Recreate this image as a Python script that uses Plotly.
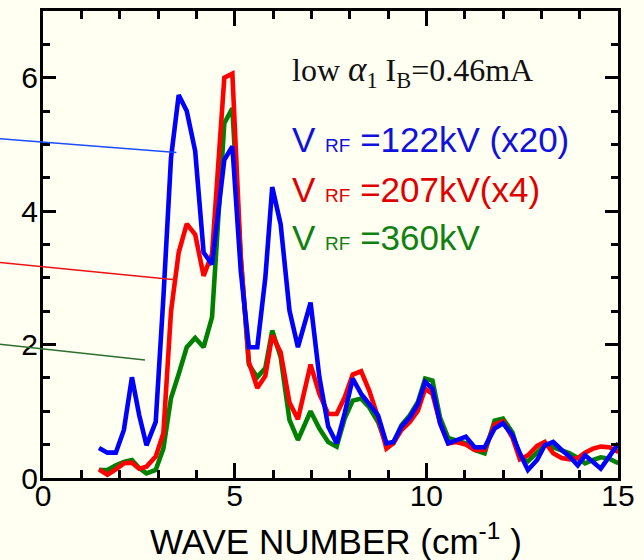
import plotly.graph_objects as go

# Wave number samples (cm^-1) shared by the three spectra
wave_number = [1.46, 1.68, 1.90, 2.11, 2.32, 2.51, 2.70, 2.94, 3.14, 3.34,
               3.54, 3.75, 3.97, 4.19, 4.41, 4.73, 4.94, 5.16, 5.37, 5.59,
               5.80, 5.98, 6.20, 6.43, 6.65, 6.98, 7.21, 7.44, 7.66, 7.87,
               8.08, 8.30, 8.51, 8.74, 8.96, 9.14, 9.35, 9.57, 9.78, 9.97,
               10.16, 10.36, 10.57, 10.78, 11.03, 11.26, 11.52, 11.78, 12.00, 12.25,
               12.44, 12.65, 12.89, 13.09, 13.31, 13.53, 13.74, 13.95, 14.14, 14.35,
               14.55, 14.77, 15.01]

# V_RF = 122 kV (scaled x20)
v122 = [0.45, 0.38, 0.38, 0.72, 1.51, 0.94, 0.49, 0.84, 2.70, 4.80,
        5.74, 5.50, 4.90, 3.38, 3.20, 4.77, 4.97, 3.10, 1.96, 1.96,
        3.00, 4.36, 3.80, 2.51, 1.96, 2.63, 1.51, 0.77, 0.52, 0.97,
        1.49, 1.26, 1.11, 0.94, 0.52, 0.54, 0.77, 0.91, 1.11, 1.44,
        1.34, 0.82, 0.52, 0.57, 0.62, 0.46, 0.46, 0.74, 0.82, 0.64,
        0.37, 0.12, 0.27, 0.49, 0.54, 0.42, 0.32, 0.19, 0.34, 0.24,
        0.14, 0.32, 0.52]

# V_RF = 207 kV (scaled x4)
v207 = [0.13, 0.05, 0.13, 0.22, 0.23, 0.14, 0.17, 0.32, 0.67, 2.50,
        3.38, 3.81, 3.65, 3.03, 3.36, 6.00, 6.06, 3.30, 1.74, 1.35,
        1.53, 2.14, 1.88, 1.13, 0.88, 1.70, 1.26, 0.96, 0.96, 1.21,
        1.55, 1.60, 1.31, 0.91, 0.44, 0.52, 0.72, 0.84, 1.01, 1.34,
        1.26, 0.82, 0.52, 0.54, 0.50, 0.42, 0.42, 0.80, 0.85, 0.60,
        0.28, 0.34, 0.48, 0.54, 0.37, 0.30, 0.28, 0.30, 0.38, 0.44,
        0.47, 0.46, 0.39]

# V_RF = 360 kV
v360 = [0.12, 0.12, 0.19, 0.24, 0.27, 0.15, 0.07, 0.12, 0.44, 1.20,
        1.56, 1.96, 2.10, 1.96, 2.41, 5.32, 5.54, 3.30, 1.70, 1.51,
        1.65, 2.21, 1.81, 0.87, 0.57, 1.00, 0.74, 0.54, 0.47, 0.89,
        1.16, 1.19, 1.06, 0.84, 0.49, 0.52, 0.79, 0.94, 1.14, 1.49,
        1.46, 0.90, 0.60, 0.56, 0.52, 0.42, 0.37, 0.86, 0.89, 0.68,
        0.30, 0.25, 0.37, 0.49, 0.46, 0.42, 0.37, 0.30, 0.22, 0.27,
        0.31, 0.29, 0.22]

x_ticks = [0, 5, 10, 15]
y_ticks = [0, 2, 4, 6]

X_RANGE = [0, 15]
Y_RANGE = [0, 7]

BG = "#fffff2"
SANS = "Liberation Sans, Arial, sans-serif"
SERIF = "Liberation Serif, Times New Roman, serif"

fig = go.Figure()

series = [
    (v360, "#008000"),
    (v207, "#ff0000"),
    (v122, "#0000ff"),
]
for values, color in series:
    fig.add_trace(go.Scatter(
        x=wave_number, y=values, mode="lines",
        line=dict(color=color, width=4.6),
        showlegend=False, hoverinfo="skip",
    ))

# Pointer lines running in from the left toward each curve
pointers = [
    # (x start, y start, x end, y end, colour)
    (-1.5, 5.10, 3.48, 4.88, "#1a4dff"),
    (-1.5, 3.25, 3.44, 2.97, "#ee1111"),
    (-1.5, 2.03, 2.66, 1.77, "#2e6e2e"),
]


def to_paper_x(v):
    return (v - X_RANGE[0]) / (X_RANGE[1] - X_RANGE[0])


def to_paper_y(v):
    return (v - Y_RANGE[0]) / (Y_RANGE[1] - Y_RANGE[0])


for x0, y0, x1, y1, color in pointers:
    fig.add_shape(
        type="line", xref="paper", yref="paper",
        x0=to_paper_x(x0), y0=to_paper_y(y0),
        x1=to_paper_x(x1), y1=to_paper_y(y1),
        line=dict(color=color, width=1.5),
    )

fig.add_annotation(
    x=6.45, y=6.09, xref="x", yref="y", xanchor="left", yanchor="middle",
    text="low <span style=\"font-size:35px\"><i>α</i></span><sub>1</sub> I<sub>B</sub>=0.46mA",
    showarrow=False, font=dict(family=SERIF, size=32, color="#111111"),
)

labels = [
    ("122kV (x20)", 5.07, "#1010e0"),
    ("207kV(x4)", 4.32, "#e00000"),
    ("360kV", 3.61, "#108010"),
]
for value_text, ypos, color in labels:
    fig.add_annotation(
        x=6.45, y=ypos, xref="x", yref="y", xanchor="left", yanchor="middle",
        text="V <span style=\"font-size:19px\">RF</span> =" + value_text,
        showarrow=False, font=dict(family=SANS, size=35, color=color),
    )

# Horizontal axis title
fig.add_annotation(
    x=to_paper_x(7.65), y=-0.13, xref="paper", yref="paper",
    xanchor="center", yanchor="middle",
    text="WAVE NUMBER (cm<sup>-1</sup> )",
    showarrow=False, font=dict(family=SANS, size=35, color="black"),
)

axis_common = dict(
    showline=True, linecolor="black", linewidth=3, mirror="allticks",
    ticks="inside", tickcolor="black", tickwidth=2.5,
    showgrid=False, zeroline=False,
    tickfont=dict(family=SANS, size=30, color="black"),
)

fig.update_xaxes(
    range=X_RANGE, tickvals=x_ticks, ticklen=15, ticklabelstandoff=-11,
    minor=dict(dtick=1, ticklen=8, tickwidth=2.5, tickcolor="black", ticks="inside", showgrid=False),
    **axis_common,
)
fig.update_yaxes(
    range=Y_RANGE, tickvals=y_ticks, ticklen=13, ticklabelstandoff=-4,
    minor=dict(dtick=0.5, ticklen=7, tickwidth=2.5, tickcolor="black", ticks="inside", showgrid=False),
    **axis_common,
)

fig.update_layout(
    width=644, height=560,
    margin=dict(l=43, r=26, t=8, b=82),
    paper_bgcolor=BG, plot_bgcolor=BG,
    showlegend=False,
)

fig.write_html("out.html")
